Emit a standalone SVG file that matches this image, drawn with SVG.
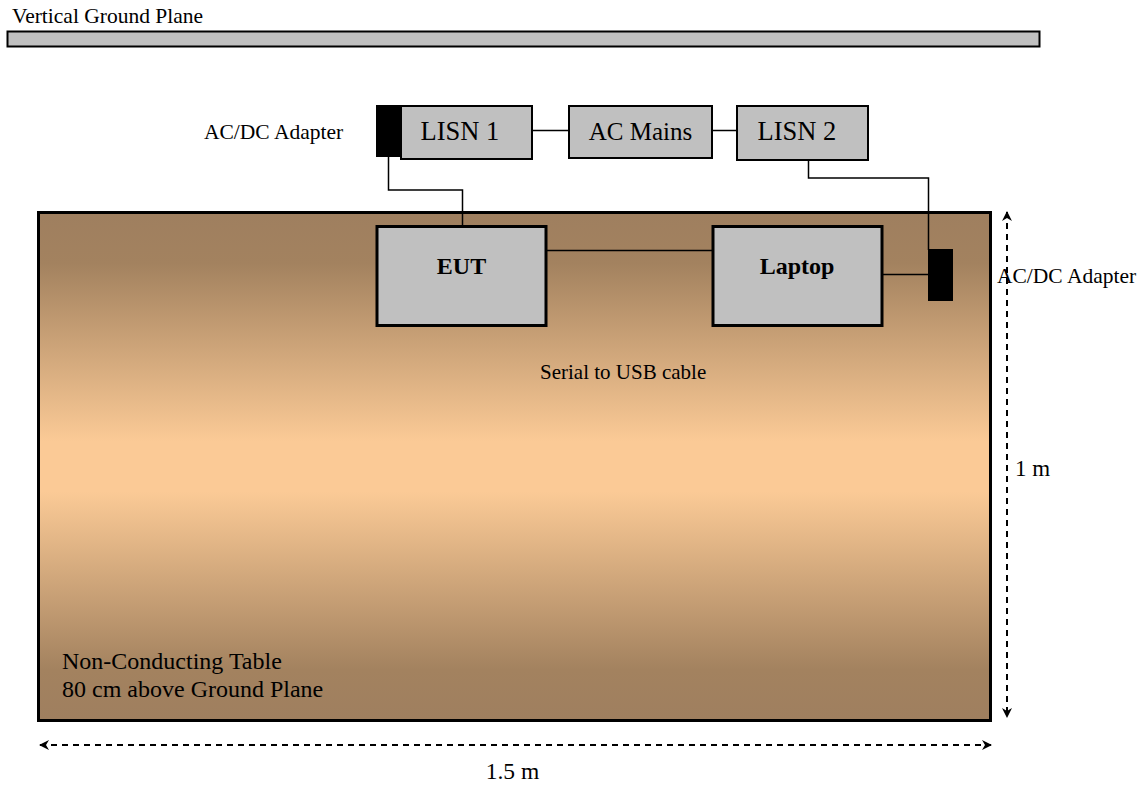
<svg xmlns="http://www.w3.org/2000/svg" width="1141" height="785" viewBox="0 0 1141 785">
<defs>
<linearGradient id="tableGrad" x1="0" y1="0" x2="0" y2="1">
<stop offset="0" stop-color="#9f7f5f"/>
<stop offset="0.1" stop-color="#a3825f"/>
<stop offset="0.45" stop-color="#fbca96"/>
<stop offset="0.55" stop-color="#fbca96"/>
<stop offset="0.9" stop-color="#a3825f"/>
<stop offset="1" stop-color="#9f7f5f"/>
</linearGradient>
<marker id="arr" viewBox="0 0 10 10" refX="9" refY="5" markerWidth="10" markerHeight="10" markerUnits="userSpaceOnUse" orient="auto-start-reverse">
<path d="M0,0 L10,5 L0,10 L3,5 Z" fill="#000"/>
</marker>
</defs>
<style>
.t{font-family:"Liberation Serif","Times New Roman",serif;fill:#000}
.box{fill:#c0c0c0;stroke:#000;stroke-width:2}
.bigbox{fill:#c0c0c0;stroke:#000;stroke-width:3}
.wire{fill:none;stroke:#000;stroke-width:1.5}
.dim{fill:none;stroke:#000;stroke-width:2;stroke-dasharray:6,5}
.adp{fill:#000}
</style>
<rect width="1141" height="785" fill="#fff"/>

<g id="ground-plane">
<rect x="7.5" y="31.5" width="1032" height="15" fill="#c0c0c0" stroke="#000" stroke-width="2"/>
<text class="t" x="12" y="23" font-size="21.5">Vertical Ground Plane</text>
</g>

<g id="table">
<rect x="38.5" y="212.5" width="952" height="508" fill="url(#tableGrad)" stroke="#000" stroke-width="3"/>
<text class="t" x="62" y="669" font-size="24">Non-Conducting Table</text>
<text class="t" x="62" y="697" font-size="24">80 cm above Ground Plane</text>
</g>

<g id="connectors">
<polyline class="wire" points="388.5,157 388.5,190 462.5,190 462.5,226"/>
<line class="wire" x1="520" y1="130.5" x2="568" y2="130.5"/>
<line class="wire" x1="712" y1="130.5" x2="736" y2="130.5"/>
<polyline class="wire" points="808.5,153 808.5,178 928.5,178 928.5,250"/>
<line class="wire" x1="545" y1="250.5" x2="712" y2="250.5"/>
<line class="wire" x1="880" y1="274.5" x2="929" y2="274.5"/>
<line class="dim" x1="1007" y1="212" x2="1007" y2="717" marker-start="url(#arr)" marker-end="url(#arr)"/>
<line class="dim" x1="40" y1="745" x2="991" y2="745" marker-start="url(#arr)" marker-end="url(#arr)"/>
</g>

<g id="adapter-left">
<rect class="adp" x="376" y="105" width="25" height="52"/>
<text class="t" x="204" y="139" font-size="21.5">AC/DC Adapter</text>
</g>

<g id="lisn1">
<rect class="box" x="401" y="106" width="131" height="53"/>
<text class="t" x="460" y="140" font-size="26.5" text-anchor="middle">LISN 1</text>
</g>

<g id="ac-mains">
<rect class="box" x="569" y="106" width="143" height="52"/>
<text class="t" x="640.5" y="140" font-size="25" text-anchor="middle">AC Mains</text>
</g>

<g id="lisn2">
<rect class="box" x="737" y="106" width="131" height="54"/>
<text class="t" x="797" y="140" font-size="26.5" text-anchor="middle">LISN 2</text>
</g>

<g id="eut">
<rect class="bigbox" x="377" y="226.5" width="169" height="99"/>
<text class="t" x="461.5" y="274" font-size="24" font-weight="bold" text-anchor="middle">EUT</text>
</g>

<g id="laptop">
<rect class="bigbox" x="713" y="226.5" width="169" height="99"/>
<text class="t" x="797" y="274" font-size="24" font-weight="bold" text-anchor="middle">Laptop</text>
</g>

<g id="adapter-right">
<rect class="adp" x="928" y="249" width="25" height="52"/>
<text class="t" x="997" y="283" font-size="21.5">AC/DC Adapter</text>
</g>

<g id="labels">
<text class="t" x="540" y="379" font-size="21">Serial to USB cable</text>
<text class="t" x="1015" y="476" font-size="23">1 m</text>
<text class="t" x="512.5" y="779" font-size="23.5" text-anchor="middle">1.5 m</text>
</g>
</svg>
